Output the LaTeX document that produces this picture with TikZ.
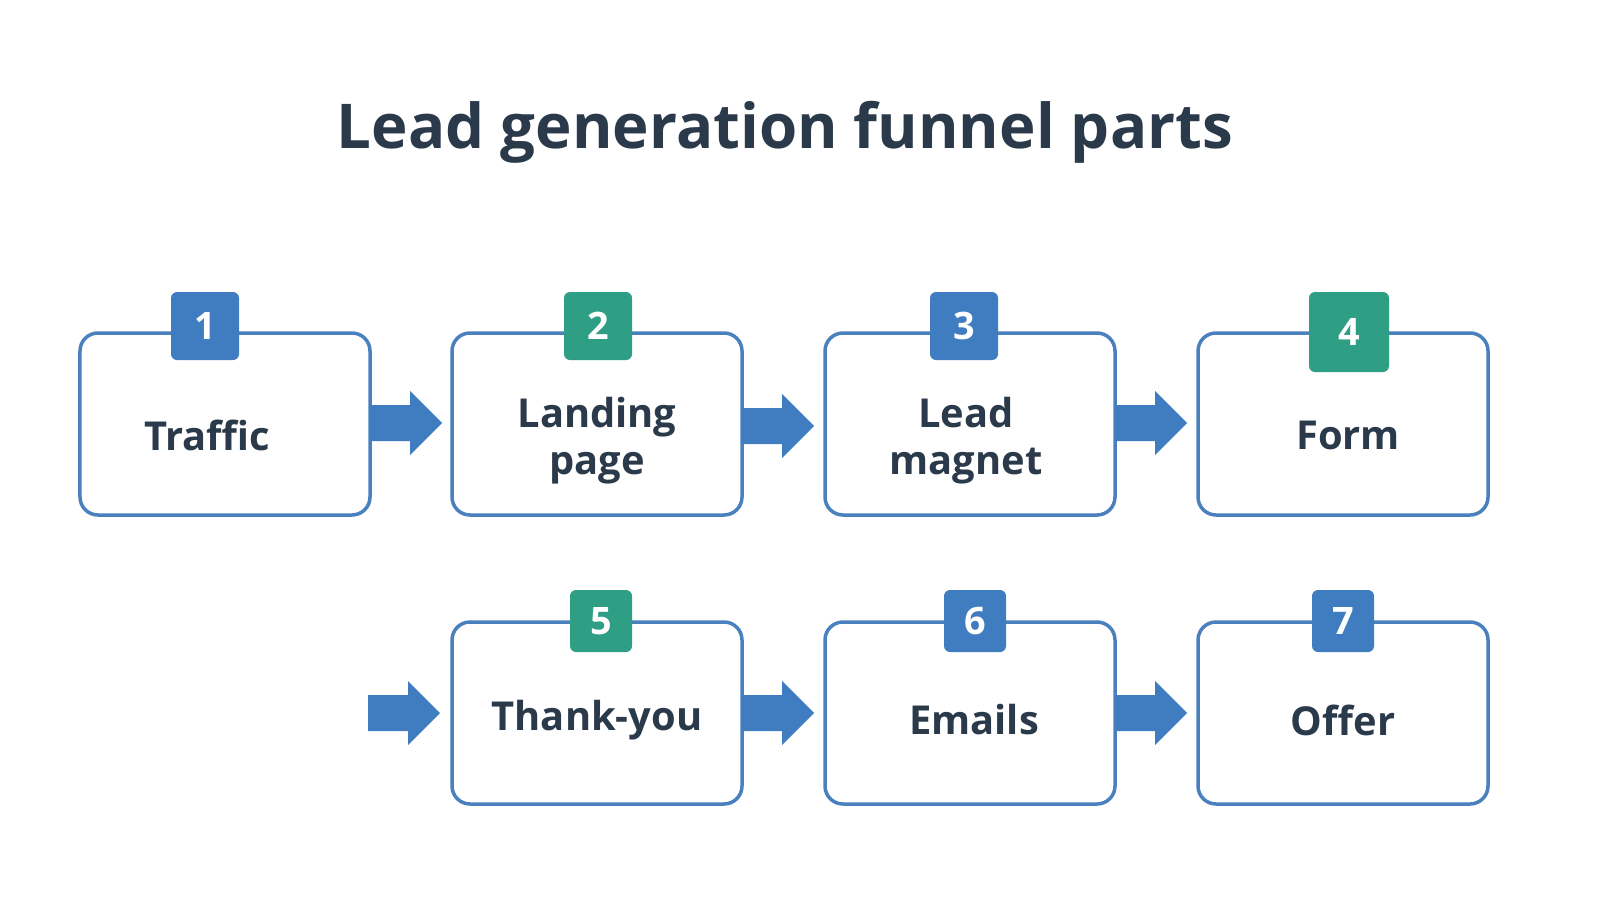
\documentclass[tikz,border=0pt]{standalone}
\usepackage{fontspec}
\setmainfont{Open Sans}
\begin{document}
\begin{tikzpicture}[x=1bp,y=-1bp,
  box/.style={draw=boxc,line width=3.5bp,rounded corners=18bp,fill=white,minimum width=290bp,minimum height=182bp,inner sep=0pt},
  lbl/.style={align=center,font=\fontsize{40}{47}\selectfont\bfseries,text=txt,inner sep=0pt},
  badge/.style={rounded corners=6bp,minimum size=68bp,inner sep=0pt,text=white,font=\fontsize{38}{40}\selectfont\bfseries},
  bl/.style={badge,fill=bluec},
  gr/.style={badge,fill=greenc}]
\definecolor{boxc}{HTML}{4A80BE}
\definecolor{bluec}{HTML}{3F7CC0}
\definecolor{greenc}{HTML}{2E9E85}
\definecolor{txt}{HTML}{2B3A4A}
\useasboundingbox (0,0) rectangle (1600,900);
\newcommand\blockarrow[2]{\fill[bluec] (#1,#2-18) -- (#1+40,#2-18) -- (#1+40,#2-32) -- (#1+72,#2) -- (#1+40,#2+32) -- (#1+40,#2+18) -- (#1,#2+18) -- cycle;}
\node[font=\fontsize{62}{70}\selectfont\bfseries,text=txt] (title) at (785,132) {Lead generation funnel parts};
\node[box] (b1) at (225,424) {};
\node[box] (b2) at (597,424) {};
\node[box] (b3) at (970,424) {};
\node[box] (b4) at (1343,424) {};
\node[box] (b5) at (597,713) {};
\node[box] (b6) at (970,713) {};
\node[box] (b7) at (1343,713) {};
\node[lbl] (t1) at (207,435) {Traffic};
\node[lbl] (t2) at (597,441) {Landing\\page};
\node[lbl] (t3) at (966,441) {Lead\\magnet};
\node[lbl] (t4) at (1348,435) {Form};
\node[lbl] (t5) at (597,720) {Thank-you};
\node[lbl] (t6) at (974,720) {Emails};
\node[lbl] (t7) at (1343,720) {Offer};
\node[bl] (n1) at (205,326) {1};
\node[gr] (n2) at (598,326) {2};
\node[bl] (n3) at (964,326) {3};
\node[gr,minimum size=80bp] (n4) at (1349,332) {4};
\node[gr,minimum size=62bp] (n5) at (601,621) {5};
\node[bl,minimum size=62bp] (n6) at (975,621) {6};
\node[bl,minimum size=62bp] (n7) at (1343,621) {7};
\blockarrow{370}{423}
\blockarrow{742}{426}
\blockarrow{1115}{423}
\blockarrow{368}{713}
\blockarrow{742}{713}
\blockarrow{1115}{713}
\end{tikzpicture}
\end{document}
